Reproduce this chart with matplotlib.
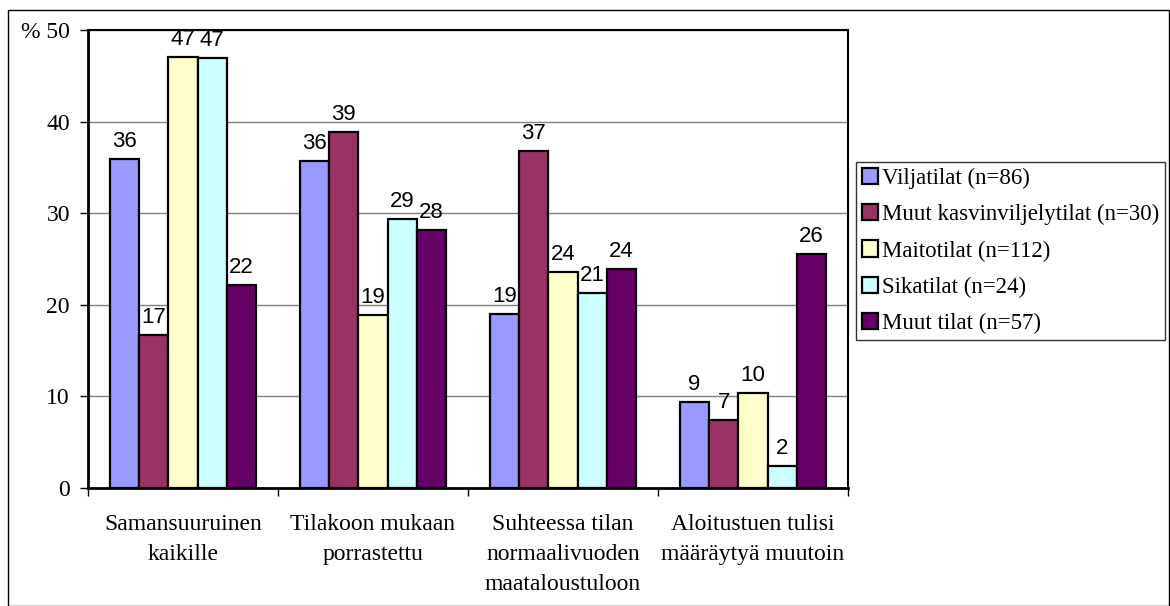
import matplotlib.pyplot as plt
import matplotlib.patches as mpatches
import numpy as np

# Data
categories = ['Samansuuruinen\nkaikille', 'Tilakoon mukaan\nporrastettu',
              'Suhteessa tilan\nnormaalivuoden\nmaataloustuloon',
              'Aloitustuen tulisi\nmääräytyä muutoin']
series_names = ['Viljatilat (n=86)', 'Muut kasvinviljelytilat (n=30)',
                'Maitotilat (n=112)', 'Sikatilat (n=24)', 'Muut tilat (n=57)']
viljatilat = [35.9, 35.7, 19.0, 9.4]
muut_kasvinviljely = [16.7, 38.9, 36.8, 7.4]
maitotilat = [47.1, 18.9, 23.6, 10.4]
sikatilat = [46.9, 29.4, 21.3, 2.4]
muut_tilat = [22.2, 28.2, 23.9, 25.6]
y_ticks = [0, 10, 20, 30, 40, 50]
y_tick_labels = ['0', '10', '20', '30', '40', '% 50']

series = [viljatilat, muut_kasvinviljely, maitotilat, sikatilat, muut_tilat]
colors = ['#9999FF', '#993366', '#FFFFCC', '#CCFFFF', '#660066']

W, H = 1170, 606
fig = plt.figure(figsize=(W / 100, H / 100), dpi=100)

# outer chart border
fig.add_artist(mpatches.Rectangle((8 / W, 0), (W - 9) / W, (H - 10) / H,
                                  transform=fig.transFigure, fill=False,
                                  edgecolor='black', linewidth=1))

ax = fig.add_axes([88 / W, 1 - 488 / H, (848 - 88) / W, (488 - 30) / H])

x = np.arange(len(categories))
w = 1 / 6.5
for i, (vals, col, name) in enumerate(zip(series, colors, series_names)):
    bars = ax.bar(x + (i - 2) * w, vals, width=w, color=col, edgecolor='black',
                  linewidth=1.6, label=name, zorder=3)
    for b, v in zip(bars, vals):
        ax.annotate(f'{round(v)}', (b.get_x() + b.get_width() / 2, v),
                    xytext=(0, 5), textcoords='offset points', ha='center',
                    va='bottom', fontsize=16, family='Liberation Sans', zorder=4)

ax.set_xlim(-0.5, len(categories) - 0.5)
ax.set_ylim(0, 50)
ax.set_yticks(y_ticks)
ax.set_yticklabels(y_tick_labels, family='Liberation Serif', fontsize=17)
ax.yaxis.grid(True, color='#808080', linewidth=1, zorder=0)

ax.set_xticks(x)
ax.set_xticklabels(categories, family='Liberation Serif', fontsize=17,
                   linespacing=1.55, va='top')
ax.set_xticks(np.arange(len(categories) + 1) - 0.5, minor=True)
ax.tick_params(axis='x', which='major', length=0, pad=19)
ax.tick_params(axis='x', which='minor', length=6, width=1, direction='out')
ax.tick_params(axis='y', length=6, width=1, pad=7, direction='out')

for s in ['left', 'bottom']:
    ax.spines[s].set_linewidth(2)
for s in ['top', 'right']:
    ax.spines[s].set_linewidth(1.5)

leg = fig.legend(loc='upper left', bbox_to_anchor=(856 / W, 1 - 162 / H),
                 prop={'family': 'Liberation Serif', 'size': 16.5},
                 frameon=True, fancybox=False, edgecolor='black',
                 handlelength=0.72, handleheight=0.72, handletextpad=0.15,
                 labelspacing=0.66, borderpad=0.25, borderaxespad=0)
leg.get_frame().set_linewidth(1)

fig.savefig('out.png', dpi=100)
